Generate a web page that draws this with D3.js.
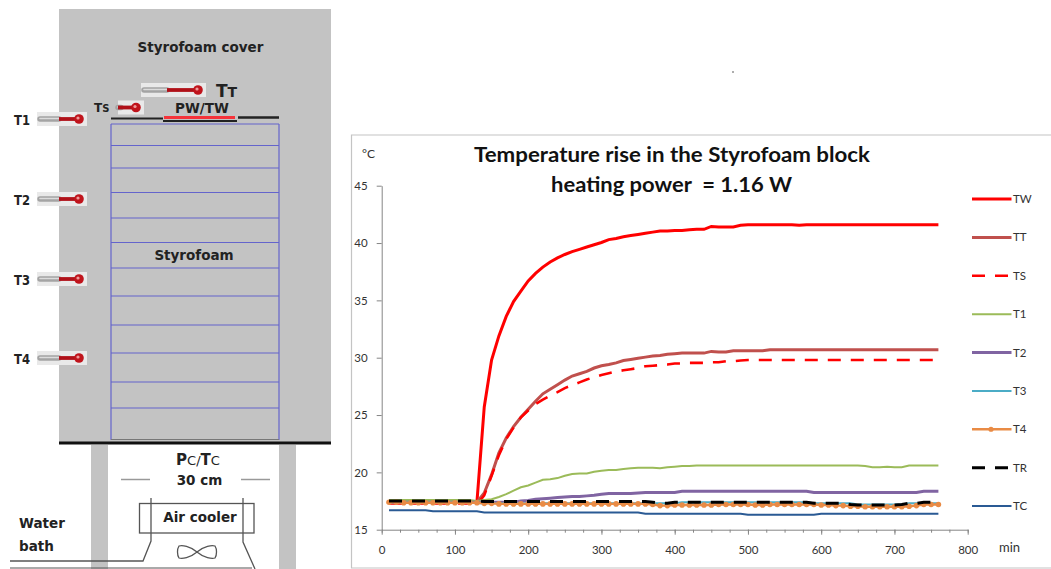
<!DOCTYPE html>
<html>
<head>
	<meta charset="utf-8">
	<script src="https://d3js.org/d3.v7.min.js"></script>
	<title>Temperature rise in the Styrofoam block</title>
	<style>
		html, body { margin: 0; padding: 0; background: #fff; overflow: hidden; }
		text { font-family: Lato, sans-serif; }
		.diag text { font-family: "DejaVu Sans", sans-serif; font-weight: 700; fill: #222; }
	</style>
</head>
<body>
<div id="chart"></div>
<script>
// readings every 10 min, 10..760
const times = d3.range(10, 770, 10);

const TW = [
	17.4,17.4,17.4,17.4,17.4,17.4,17.4,17.4,17.4,17.4,
	17.4,17.4,17.4,25.7,29.8,31.9,33.6,34.9,35.8,36.7,
	37.35,37.9,38.35,38.7,39.0,39.25,39.45,39.65,39.85,40.05,
	40.3,40.4,40.55,40.65,40.75,40.85,40.95,41.05,41.05,41.1,
	41.1,41.15,41.2,41.2,41.45,41.4,41.4,41.4,41.55,41.6,
	41.6,41.6,41.6,41.6,41.6,41.6,41.55,41.6,41.6,41.6,
	41.6,41.6,41.6,41.6,41.6,41.6,41.6,41.6,41.6,41.6,
	41.6,41.6,41.6,41.6,41.6,41.6];
const TT = [
	17.4,17.4,17.4,17.4,17.4,17.4,17.4,17.4,17.4,17.4,
	17.4,17.4,17.4,18.2,19.8,21.7,23.0,24.0,24.8,25.5,
	26.2,26.85,27.25,27.65,28.05,28.4,28.6,28.8,29.1,29.3,
	29.4,29.55,29.75,29.85,29.95,30.05,30.15,30.2,30.3,30.35,
	30.4,30.4,30.4,30.4,30.55,30.5,30.5,30.6,30.6,30.6,
	30.6,30.6,30.7,30.7,30.7,30.7,30.7,30.7,30.7,30.7,
	30.7,30.7,30.7,30.7,30.7,30.7,30.7,30.7,30.7,30.7,
	30.7,30.7,30.7,30.7,30.7,30.7];
const TS = [
	17.3,17.3,17.3,17.3,17.3,17.3,17.3,17.3,17.3,17.3,
	17.3,17.3,17.2,18.0,19.7,21.5,22.9,23.9,24.8,25.4,
	25.95,26.35,26.7,27.0,27.35,27.6,27.85,28.1,28.3,28.5,
	28.65,28.8,28.9,29.0,29.1,29.25,29.3,29.35,29.4,29.5,
	29.5,29.55,29.55,29.55,29.6,29.6,29.7,29.7,29.75,29.8,
	29.8,29.8,29.8,29.8,29.8,29.8,29.8,29.8,29.8,29.8,
	29.8,29.8,29.8,29.8,29.8,29.8,29.8,29.8,29.8,29.8,
	29.8,29.8,29.8,29.8,29.8,29.8];
const T1 = [
	17.6,17.6,17.6,17.6,17.6,17.6,17.6,17.6,17.6,17.6,
	17.6,17.6,17.5,17.6,17.65,17.85,18.1,18.4,18.7,18.85,
	19.1,19.35,19.4,19.5,19.7,19.85,19.9,19.9,20.05,20.15,
	20.2,20.2,20.3,20.35,20.4,20.4,20.4,20.35,20.45,20.5,
	20.55,20.55,20.6,20.6,20.6,20.6,20.6,20.6,20.6,20.6,
	20.6,20.6,20.6,20.6,20.6,20.6,20.6,20.6,20.6,20.6,
	20.6,20.6,20.6,20.6,20.6,20.55,20.45,20.45,20.5,20.45,
	20.45,20.6,20.6,20.6,20.6,20.6];
const T2 = [
	17.4,17.4,17.4,17.4,17.4,17.4,17.4,17.4,17.4,17.4,
	17.4,17.4,17.4,17.4,17.4,17.4,17.4,17.4,17.5,17.55,
	17.65,17.7,17.75,17.8,17.85,17.9,17.9,17.95,18.0,18.1,
	18.15,18.15,18.15,18.15,18.2,18.25,18.25,18.25,18.25,18.25,
	18.35,18.35,18.35,18.35,18.35,18.35,18.35,18.35,18.35,18.35,
	18.35,18.35,18.35,18.35,18.35,18.35,18.35,18.35,18.25,18.25,
	18.25,18.25,18.25,18.25,18.25,18.25,18.25,18.25,18.25,18.25,
	18.25,18.25,18.25,18.35,18.35,18.35];
const T3 = [
	17.4,17.4,17.4,17.4,17.4,17.4,17.4,17.4,17.4,17.4,
	17.4,17.4,17.3,17.3,17.3,17.3,17.3,17.3,17.3,17.3,
	17.3,17.3,17.3,17.3,17.3,17.3,17.3,17.3,17.3,17.3,
	17.3,17.3,17.3,17.3,17.3,17.3,17.3,17.3,17.3,17.3,
	17.4,17.4,17.4,17.4,17.4,17.4,17.4,17.4,17.4,17.4,
	17.4,17.4,17.4,17.4,17.4,17.4,17.4,17.4,17.3,17.3,
	17.3,17.3,17.3,17.3,17.2,17.2,17.2,17.2,17.2,17.2,
	17.2,17.3,17.3,17.3,17.3,17.3];
const T4 = [
	17.4,17.4,17.35,17.35,17.35,17.35,17.35,17.35,17.35,17.35,
	17.35,17.35,17.35,17.3,17.3,17.25,17.25,17.25,17.25,17.25,
	17.25,17.25,17.25,17.25,17.25,17.25,17.25,17.25,17.25,17.25,
	17.25,17.25,17.25,17.25,17.25,17.25,17.2,17.1,17.1,17.15,
	17.15,17.15,17.15,17.15,17.15,17.2,17.2,17.2,17.2,17.2,
	17.15,17.15,17.2,17.2,17.2,17.2,17.2,17.2,17.2,17.15,
	17.15,17.1,17.1,17.05,17.05,17.0,17.0,17.0,17.0,17.0,
	17.0,17.05,17.1,17.2,17.2,17.2];
const TR = [
	17.5,17.5,17.5,17.5,17.5,17.5,17.5,17.5,17.5,17.5,
	17.5,17.5,17.5,17.45,17.45,17.45,17.45,17.45,17.45,17.45,
	17.45,17.45,17.45,17.45,17.45,17.45,17.45,17.45,17.45,17.45,
	17.45,17.45,17.45,17.45,17.45,17.45,17.4,17.3,17.3,17.4,
	17.4,17.4,17.4,17.4,17.4,17.4,17.4,17.4,17.4,17.4,
	17.4,17.4,17.4,17.4,17.4,17.4,17.4,17.4,17.3,17.3,
	17.3,17.3,17.3,17.2,17.15,17.15,17.15,17.15,17.15,17.15,
	17.2,17.3,17.3,17.4,17.4,17.4];
const TC = [
	16.7,16.7,16.7,16.7,16.7,16.7,16.6,16.6,16.6,16.6,
	16.6,16.6,16.6,16.5,16.5,16.5,16.5,16.5,16.5,16.5,
	16.5,16.5,16.5,16.5,16.5,16.5,16.5,16.5,16.5,16.5,
	16.5,16.5,16.5,16.5,16.5,16.4,16.4,16.4,16.4,16.4,
	16.4,16.4,16.4,16.4,16.4,16.4,16.4,16.4,16.4,16.3,
	16.3,16.3,16.3,16.3,16.3,16.3,16.3,16.3,16.3,16.4,
	16.4,16.4,16.4,16.4,16.4,16.4,16.4,16.4,16.4,16.4,
	16.4,16.4,16.4,16.4,16.4,16.4];

const seriesNames = ["TW", "TT", "TS", "T1", "T2", "T3", "T4", "TR", "TC"];
const seriesValues = [TW, TT, TS, T1, T2, T3, T4, TR, TC];
const seriesColors = ["#ff0000", "#c0504d", "#ff0000", "#9bbb59", "#8064a2", "#4bacc6", "#e98b45", "#000000", "#2a5a94"];
const seriesWidths = [3, 3, 2.6, 2, 3, 2, 2.4, 3, 2];
const seriesDash = [null, null, "13,10", null, null, null, null, "13,10", null];

const xTicks = [0, 100, 200, 300, 400, 500, 600, 700, 800];
const xMinorTicks = d3.range(0, 825, 25);
const yTicks = [15, 20, 25, 30, 35, 40, 45];

// layer lines of the block in the sketch
const layerY = [124, 145.5, 168, 192.5, 218, 242.5, 268, 296, 325, 353, 382, 408];
const sideSensors = [["T1", 119], ["T2", 199], ["T3", 279], ["T4", 358]];

const svg = d3.select("#chart").append("svg")
	.attr("width", 1051).attr("height", 569)
	.style("display", "block");

// ------- sketch on the left
const diag = svg.append("g").attr("class", "diag");
const gray = "#c3c3c3";

diag.append("rect").attr("x", 59).attr("y", 9).attr("width", 272).attr("height", 434).attr("fill", gray);
diag.append("rect").attr("x", 91).attr("y", 445).attr("width", 17).attr("height", 124).attr("fill", gray);
diag.append("rect").attr("x", 279).attr("y", 445).attr("width", 17).attr("height", 124).attr("fill", gray);
diag.append("line").attr("x1", 59).attr("x2", 331).attr("y1", 443).attr("y2", 443).attr("stroke", "#111").attr("stroke-width", 3);

diag.selectAll(".layer").data(layerY).enter().append("line")
	.attr("x1", 111).attr("x2", 279)
	.attr("y1", d => d).attr("y2", d => d)
	.attr("stroke", "#6464cc").attr("stroke-width", 1.2);
diag.append("line").attr("x1", 111).attr("x2", 111).attr("y1", 124).attr("y2", 440).attr("stroke", "#6464cc").attr("stroke-width", 1.2);
diag.append("line").attr("x1", 279).attr("x2", 279).attr("y1", 124).attr("y2", 440).attr("stroke", "#6464cc").attr("stroke-width", 1.2);
diag.append("line").attr("x1", 111).attr("x2", 279).attr("y1", 439.5).attr("y2", 439.5).attr("stroke", "#777").attr("stroke-width", 1);

// heater plate
diag.append("line").attr("x1", 111).attr("x2", 163).attr("y1", 118.5).attr("y2", 118.5).attr("stroke", "#222").attr("stroke-width", 2);
diag.append("line").attr("x1", 238).attr("x2", 279).attr("y1", 117.5).attr("y2", 117.5).attr("stroke", "#222").attr("stroke-width", 2.4);
diag.append("line").attr("x1", 163).attr("x2", 237).attr("y1", 121).attr("y2", 121).attr("stroke", "#222").attr("stroke-width", 2);
diag.append("line").attr("x1", 164).attr("x2", 235).attr("y1", 117.5).attr("y2", 117.5).attr("stroke", "#f5333a").attr("stroke-width", 3);

function thermometer(x0, x1, y, redFrom) {
	const g = diag.append("g");
	g.append("rect").attr("x", x0).attr("y", y - 7).attr("width", x1 - x0).attr("height", 14).attr("fill", "#e9e9e9");
	g.append("line").attr("x1", x0 + 3).attr("x2", redFrom).attr("y1", y).attr("y2", y)
		.attr("stroke", "#a4a4a4").attr("stroke-width", 5.5).attr("stroke-linecap", "round");
	g.append("line").attr("x1", x0 + 3).attr("x2", redFrom).attr("y1", y - 0.5).attr("y2", y - 0.5)
		.attr("stroke", "#dcdcdc").attr("stroke-width", 1.6).attr("stroke-linecap", "round");
	g.append("line").attr("x1", redFrom).attr("x2", x1 - 7).attr("y1", y).attr("y2", y)
		.attr("stroke", "#b01018").attr("stroke-width", 3.8);
	g.append("circle").attr("cx", x1 - 8).attr("cy", y).attr("r", 4.8).attr("fill", "#c0141c");
	g.append("circle").attr("cx", x1 - 9).attr("cy", y - 1).attr("r", 1.6).attr("fill", "#ee9a9a");
}

sideSensors.forEach(([name, y]) => {
	thermometer(37, 87, y, 59);
	diag.append("text").attr("x", 14).attr("y", y + 5.5).attr("font-size", 14).attr("textLength", 16).attr("lengthAdjust", "spacingAndGlyphs").text(name);
});
thermometer(141, 206, 90, 167);
thermometer(118, 144, 107.5, 118);

diag.append("text").attr("x", 216).attr("y", 97).attr("font-size", 17).attr("fill", "#111").text("T")
	.append("tspan").attr("font-size", 14).text("T");
diag.append("text").attr("x", 94).attr("y", 112).attr("font-size", 12).text("T")
	.append("tspan").attr("font-size", 10).text("S");
diag.append("text").attr("x", 202).attr("y", 113).attr("text-anchor", "middle").attr("font-size", 13.5).text("PW/TW");
diag.append("text").attr("x", 200.5).attr("y", 52).attr("text-anchor", "middle").attr("font-size", 13.5).text("Styrofoam cover");
diag.append("text").attr("x", 194).attr("y", 260).attr("text-anchor", "middle").attr("font-size", 13.5).text("Styrofoam");

const pc = diag.append("text").attr("x", 198).attr("y", 465).attr("text-anchor", "middle").attr("font-size", 15).text("P");
pc.append("tspan").attr("font-size", 13).attr("font-weight", 400).text("C/");
pc.append("tspan").attr("font-size", 15).text("T");
pc.append("tspan").attr("font-size", 13).attr("font-weight", 400).text("C");
diag.append("text").attr("x", 199.5).attr("y", 485).attr("text-anchor", "middle").attr("font-size", 13.5).text("30 cm");
diag.append("line").attr("x1", 121).attr("x2", 150).attr("y1", 479.5).attr("y2", 479.5).attr("stroke", "#999").attr("stroke-width", 1.5);
diag.append("line").attr("x1", 241).attr("x2", 270).attr("y1", 479.5).attr("y2", 479.5).attr("stroke", "#999").attr("stroke-width", 1.5);

// air cooler and pipes
const pipe = "#555";
diag.append("rect").attr("x", 139.5).attr("y", 503.5).attr("width", 114.5).attr("height", 29.5)
	.attr("fill", "none").attr("stroke", pipe).attr("stroke-width", 1.3);
diag.append("path").attr("d", "M151,498V541L143,561H10").attr("fill", "none").attr("stroke", pipe).attr("stroke-width", 1.3);
diag.append("path").attr("d", "M243,498V542L255,569").attr("fill", "none").attr("stroke", pipe).attr("stroke-width", 1.3);
diag.append("line").attr("x1", 10).attr("x2", 252).attr("y1", 568).attr("y2", 568).attr("stroke", pipe).attr("stroke-width", 1);
diag.append("path").attr("d", "M197,552C190,546 182,545 179,546C177,549 177,555 179,558C182,559 190,558 197,552C204,546 212,545 215,546C217,549 217,555 215,558C212,559 204,558 197,552Z")
	.attr("fill", "none").attr("stroke", pipe).attr("stroke-width", 1.3);

diag.append("text").attr("x", 200).attr("y", 522).attr("text-anchor", "middle").attr("font-size", 13.5).text("Air cooler");
diag.append("text").attr("x", 19).attr("y", 528).attr("font-size", 13.5).text("Water");
diag.append("text").attr("x", 19).attr("y", 551).attr("font-size", 13.5).text("bath");

svg.append("circle").attr("cx", 733).attr("cy", 72).attr("r", 0.8).attr("fill", "#444");

// ------- chart on the right
svg.append("path").attr("d", "M1051,135H351.5V568H1051").attr("fill", "none").attr("stroke", "#c4c4c4").attr("stroke-width", 1.2);

const x = d3.scaleLinear().domain([0, 800]).range([381.7, 967.7]);
const y = d3.scaleLinear().domain([15, 45]).range([529.7, 185.7]);

const xMinor = svg.append("g").attr("transform", "translate(0,529.7)")
	.call(d3.axisBottom(x).tickValues(xMinorTicks).tickSize(3).tickFormat(""));
xMinor.select(".domain").remove();
xMinor.selectAll("line").attr("stroke", "#868686");

const xAxis = svg.append("g").attr("transform", "translate(0,529.7)")
	.call(d3.axisBottom(x).tickValues(xTicks).tickSize(5).tickSizeOuter(0).tickPadding(11));
const yAxis = svg.append("g").attr("transform", "translate(381.7,0)")
	.call(d3.axisLeft(y).tickValues(yTicks).tickSize(5).tickSizeOuter(0).tickPadding(9));

[xAxis, yAxis].forEach(a => {
	a.select(".domain").attr("stroke", "#868686");
	a.selectAll("line").attr("stroke", "#868686");
	a.selectAll("text").attr("fill", "#333").style("font-size", "11.5px").style("font-family", "Lato, sans-serif");
});

const line = d3.line().x((d, i) => x(times[i])).y(d => y(d));

seriesNames.forEach((name, k) => {
	svg.append("path")
		.attr("d", line(seriesValues[k]))
		.attr("fill", "none")
		.attr("stroke", seriesColors[k])
		.attr("stroke-width", seriesWidths[k])
		.attr("stroke-dasharray", seriesDash[k]);
	if (name === "T4") {
		svg.selectAll(".t4dot").data(seriesValues[k]).enter().append("circle")
			.attr("cx", (d, i) => x(times[i]))
			.attr("cy", d => y(d))
			.attr("r", 2.8)
			.attr("fill", seriesColors[k]);
	}
});

// legend
const legendY = d3.scalePoint().domain(seriesNames).range([199, 506]);
seriesNames.forEach((name, k) => {
	const ly = legendY(name);
	svg.append("line")
		.attr("x1", 972).attr("x2", 1011.5).attr("y1", ly).attr("y2", ly)
		.attr("stroke", seriesColors[k])
		.attr("stroke-width", seriesWidths[k])
		.attr("stroke-dasharray", seriesDash[k]);
	if (name === "T4") {
		svg.append("circle").attr("cx", 991).attr("cy", ly).attr("r", 2.6).attr("fill", seriesColors[k]);
	}
	svg.append("text").attr("x", 1013).attr("y", ly + 4).attr("font-size", 11.5).attr("fill", "#333").text(name);
});

// titles
svg.append("text").attr("x", 474).attr("y", 161.5)
	.attr("font-size", 20).attr("font-weight", 700).attr("fill", "#111")
	.attr("textLength", 396).attr("lengthAdjust", "spacingAndGlyphs")
	.text("Temperature rise in the Styrofoam block");
svg.append("text").attr("x", 551).attr("y", 191.5)
	.attr("font-size", 20).attr("font-weight", 700).attr("fill", "#111")
	.attr("textLength", 241).attr("lengthAdjust", "spacingAndGlyphs")
	.style("white-space", "pre").text("heating power  = 1.16 W");
svg.append("text").attr("x", 362).attr("y", 158).attr("font-size", 12).attr("fill", "#333").text("°C");
svg.append("text").attr("x", 999).attr("y", 552).attr("font-size", 13).attr("fill", "#333").text("min");
</script>
</body>
</html>
